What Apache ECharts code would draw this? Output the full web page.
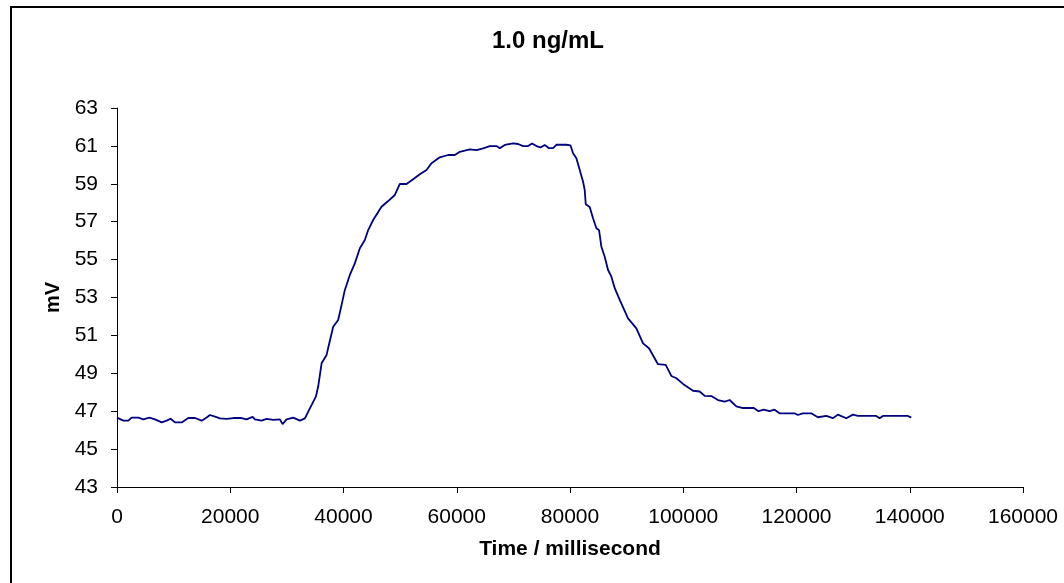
<!DOCTYPE html>
<html>
<head>
<meta charset="utf-8">
<script src="https://cdn.jsdelivr.net/npm/echarts@6/dist/echarts.min.js"></script>
<style>
html,body{margin:0;padding:0;background:#fff;}
#chart{width:1064px;height:583px;}
</style>
</head>
<body>
<div id="chart"></div>
<script>
const titleText = '1.0 ng/mL';
const xAxisName = 'Time / millisecond';
const yAxisName = 'mV';

const timeMs = [0,1120,2000,2590,3770,4650,5700,6710,7890,8770,9470,10240,11420,12590,13770,14950,15830,16410,17300,18180,19360,20530,22000,22890,23950,24360,25540,26420,27590,28770,29240,29950,31120,32300,33180,34060,35120,35530,36130,37010,37300,38180,39060,39650,40240,41120,42000,42890,43770,44360,45240,46710,47890,49070,49950,51130,52300,53480,54660,55540,57010,58480,59660,60540,62300,63490,64660,65840,67020,67600,68480,69950,70830,71720,72600,73300,74080,74790,75540,76310,77010,77600,79370,80080,80540,81130,81720,82310,82600,82780,83480,84070,84660,85130,85540,86130,86720,87310,87900,88780,90250,91720,92900,93950,95540,96900,97900,98790,99960,101730,102900,103790,104960,106140,107320,108200,109370,110400,112450,113300,114200,115250,116130,117000,119640,120240,121120,122600,123770,125260,126430,127310,128790,129970,130850,134090,134680,135270,139680,140270];
const mV = [46.66,46.50,46.50,46.66,46.66,46.57,46.66,46.57,46.41,46.50,46.60,46.41,46.41,46.64,46.64,46.50,46.67,46.80,46.71,46.62,46.59,46.64,46.64,46.57,46.70,46.57,46.50,46.59,46.54,46.57,46.32,46.57,46.66,46.50,46.62,47.15,47.77,48.30,49.53,49.97,50.35,51.46,51.81,52.60,53.40,54.19,54.80,55.60,56.03,56.56,57.09,57.79,58.09,58.41,58.99,58.99,59.24,59.50,59.73,60.08,60.40,60.52,60.52,60.69,60.82,60.78,60.87,60.99,60.99,60.88,61.05,61.13,61.10,60.99,60.99,61.13,60.99,60.92,61.05,60.88,60.88,61.06,61.06,61.03,60.61,60.35,59.73,59.11,58.67,57.92,57.78,57.18,56.65,56.55,55.68,55.15,54.45,54.10,53.49,52.87,51.90,51.37,50.58,50.32,49.48,49.44,48.86,48.74,48.44,48.08,48.04,47.81,47.80,47.59,47.50,47.59,47.25,47.17,47.17,47.00,47.08,47.00,47.08,46.89,46.89,46.80,46.89,46.89,46.68,46.75,46.63,46.82,46.63,46.82,46.75,46.75,46.63,46.75,46.75,46.66];

const xMin = 0, xMax = 160000, xStep = 20000;
const yMin = 43, yMax = 63, yStep = 2;

const seriesData = timeMs.map((t, i) => [t, mV[i]]);
const FONT = '"Liberation Sans", Arial, sans-serif';

const chart = echarts.init(document.getElementById('chart'));
chart.setOption({
  animation: false,
  backgroundColor: '#fff',
  grid: { left: 117, right: 41, top: 108, bottom: 96, containLabel: false, outerBoundsMode: 'none' },
  graphic: [
    { type: 'rect', shape: { x: 11, y: 7, width: 1070, height: 600 },
      style: { fill: 'none', stroke: '#000', lineWidth: 2 }, silent: true },
    { type: 'text', x: 548, y: 41,
      style: { text: titleText, fontFamily: FONT, fontSize: 24, fontWeight: 'bold', fill: '#000', align: 'center', verticalAlign: 'middle' } }
  ],
  xAxis: {
    type: 'value', min: xMin, max: xMax, interval: xStep,
    name: xAxisName, nameLocation: 'middle', nameGap: 52,
    nameTextStyle: { fontFamily: FONT, fontSize: 21, fontWeight: 'bold', color: '#000' },
    axisLine: { show: true, lineStyle: { color: '#000', width: 1 } },
    axisTick: { show: true, inside: false, length: 6, lineStyle: { color: '#000' } },
    axisLabel: { fontFamily: FONT, fontSize: 21, color: '#000', margin: 20, formatter: v => String(v) },
    splitLine: { show: false }
  },
  yAxis: {
    type: 'value', min: yMin, max: yMax, interval: yStep,
    name: yAxisName, nameLocation: 'middle', nameGap: 54, nameRotate: 90,
    nameTextStyle: { fontFamily: FONT, fontSize: 20, fontWeight: 'bold', color: '#000' },
    axisLine: { show: true, lineStyle: { color: '#000', width: 1 } },
    axisTick: { show: true, inside: false, length: 6, lineStyle: { color: '#000' } },
    axisLabel: { fontFamily: FONT, fontSize: 21, color: '#000', margin: 19, formatter: v => String(v) },
    splitLine: { show: false }
  },
  series: [{
    type: 'line', data: seriesData, showSymbol: false, symbol: 'none',
    lineStyle: { color: '#000080', width: 1.8 }, smooth: false
  }]
});
</script>
</body>
</html>
